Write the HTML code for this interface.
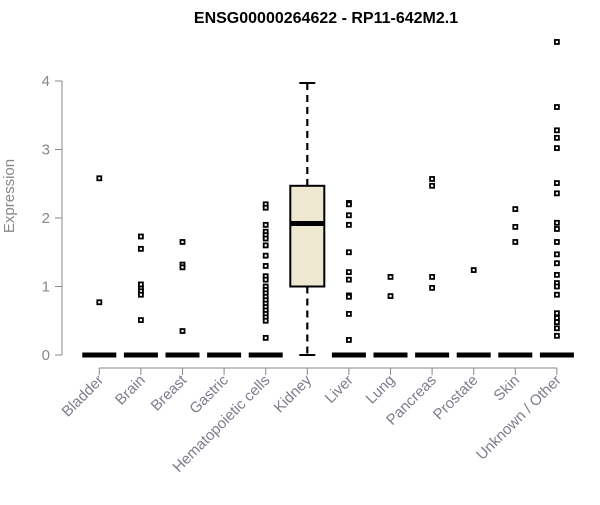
<!DOCTYPE html>
<html><head><meta charset="utf-8"><style>
body{margin:0;background:#fff;font-family:"Liberation Sans",Arial,sans-serif}
svg text{font-family:"Liberation Sans",Arial,sans-serif}
</style></head><body>
<svg id="c" width="600" height="500" xmlns="http://www.w3.org/2000/svg">
<rect width="600" height="500" fill="#fff"/>
<text x="326" y="23" text-anchor="middle" font-size="16" font-weight="bold">ENSG00000264622 - RP11-642M2.1</text>
<text transform="translate(14,196) rotate(-90)" text-anchor="middle" font-size="15" fill="#888">Expression</text>
</svg>
<script>
const categories=["Bladder","Brain","Breast","Gastric","Hematopoietic cells","Kidney","Liver","Lung","Pancreas","Prostate","Skin","Unknown / Other"];
const yTicks=[0,1,2,3,4];
const boxMin=[0,0,0,0,0,0,0,0,0,0,0,0];
const boxQ1=[0,0,0,0,0,1.0,0,0,0,0,0,0];
const boxMedian=[0,0,0,0,0,1.92,0,0,0,0,0,0];
const boxQ3=[0,0,0,0,0,2.47,0,0,0,0,0,0];
const boxMax=[0,0,0,0,0,3.97,0,0,0,0,0,0];
const outliers=[
[2.58,0.77],
[1.73,1.55,1.03,0.97,0.93,0.88,0.51],
[1.65,1.32,1.28,0.35],
[],
[2.2,2.15,1.9,1.8,1.75,1.7,1.6,1.45,1.3,1.15,1.1,1.0,0.95,0.9,0.85,0.8,0.75,0.7,0.65,0.6,0.55,0.5,0.25],
[],
[2.22,2.2,2.04,1.9,1.5,1.21,1.1,0.87,0.85,0.6,0.22],
[1.14,0.86],
[2.57,2.47,1.14,0.98],
[1.24],
[2.13,1.87,1.65],
[4.57,3.62,3.28,3.17,3.02,2.51,2.36,1.93,1.84,1.65,1.47,1.34,1.17,1.05,1.0,0.88,0.61,0.54,0.48,0.39,0.28]
];
const svg=document.getElementById('c');
const NS="http://www.w3.org/2000/svg";
const x0=99.3,dx=41.6;
function xs(i){return x0+i*dx;}
function ys(v){return 355-v*68.5;}
function mk(t,a,p){const e=document.createElementNS(NS,t);for(const k in a)e.setAttribute(k,a[k]);(p||svg).appendChild(e);return e;}
const ya=mk('line',{x1:62,x2:62,y1:ys(0),y2:ys(4),stroke:'#888'});


yTicks.forEach(t=>{
  mk('line',{x1:55,x2:62,y1:ys(t),y2:ys(t),stroke:'#888'});
  const tx=mk('text',{x:50,y:ys(t)+5,'text-anchor':'end','font-size':15,fill:'#888'});
  tx.textContent=t;
  
  
});
const xa=mk('line',{x1:xs(0),x2:xs(11),y1:368,y2:368,stroke:'#888'});


categories.forEach((c,i)=>{
  const x=xs(i);
  mk('line',{x1:x,x2:x,y1:368,y2:375,stroke:'#888'});
  const tx=mk('text',{x:x+5,y:381,'text-anchor':'end','font-size':15,fill:'#7d7d8c',transform:`rotate(-45 ${x+5} 381)`});
  tx.textContent=c;
  
  
  const g=mk('g',{});
  
  
  const hw=17;
  if(boxQ3[i]>boxQ1[i]){
    mk('line',{x1:x,x2:x,y1:ys(boxMax[i]),y2:ys(boxQ3[i]),stroke:'#000','stroke-width':2.2,'stroke-dasharray':'7,5'},g);
    mk('line',{x1:x,x2:x,y1:ys(boxQ1[i]),y2:ys(boxMin[i]),stroke:'#000','stroke-width':2.2,'stroke-dasharray':'7,5'},g);
    mk('line',{x1:x-8,x2:x+8,y1:ys(boxMax[i]),y2:ys(boxMax[i]),stroke:'#000','stroke-width':2},g);
    mk('line',{x1:x-8,x2:x+8,y1:ys(boxMin[i]),y2:ys(boxMin[i]),stroke:'#000','stroke-width':2},g);
    mk('rect',{x:x-hw,y:ys(boxQ3[i]),width:hw*2,height:ys(boxQ1[i])-ys(boxQ3[i]),fill:'#ede8cf',stroke:'#000','stroke-width':2},g);
  }
  mk('line',{x1:x-hw,x2:x+hw,y1:ys(boxMedian[i]),y2:ys(boxMedian[i]),stroke:'#000','stroke-width':5},g);
  outliers[i].forEach(v=>{
    const r=mk('rect',{x:x-2,y:ys(v)-2,width:4,height:4,fill:'#fff',stroke:'#000','stroke-width':1.8},g);
    
    
  });
});
</script>
</body></html>
